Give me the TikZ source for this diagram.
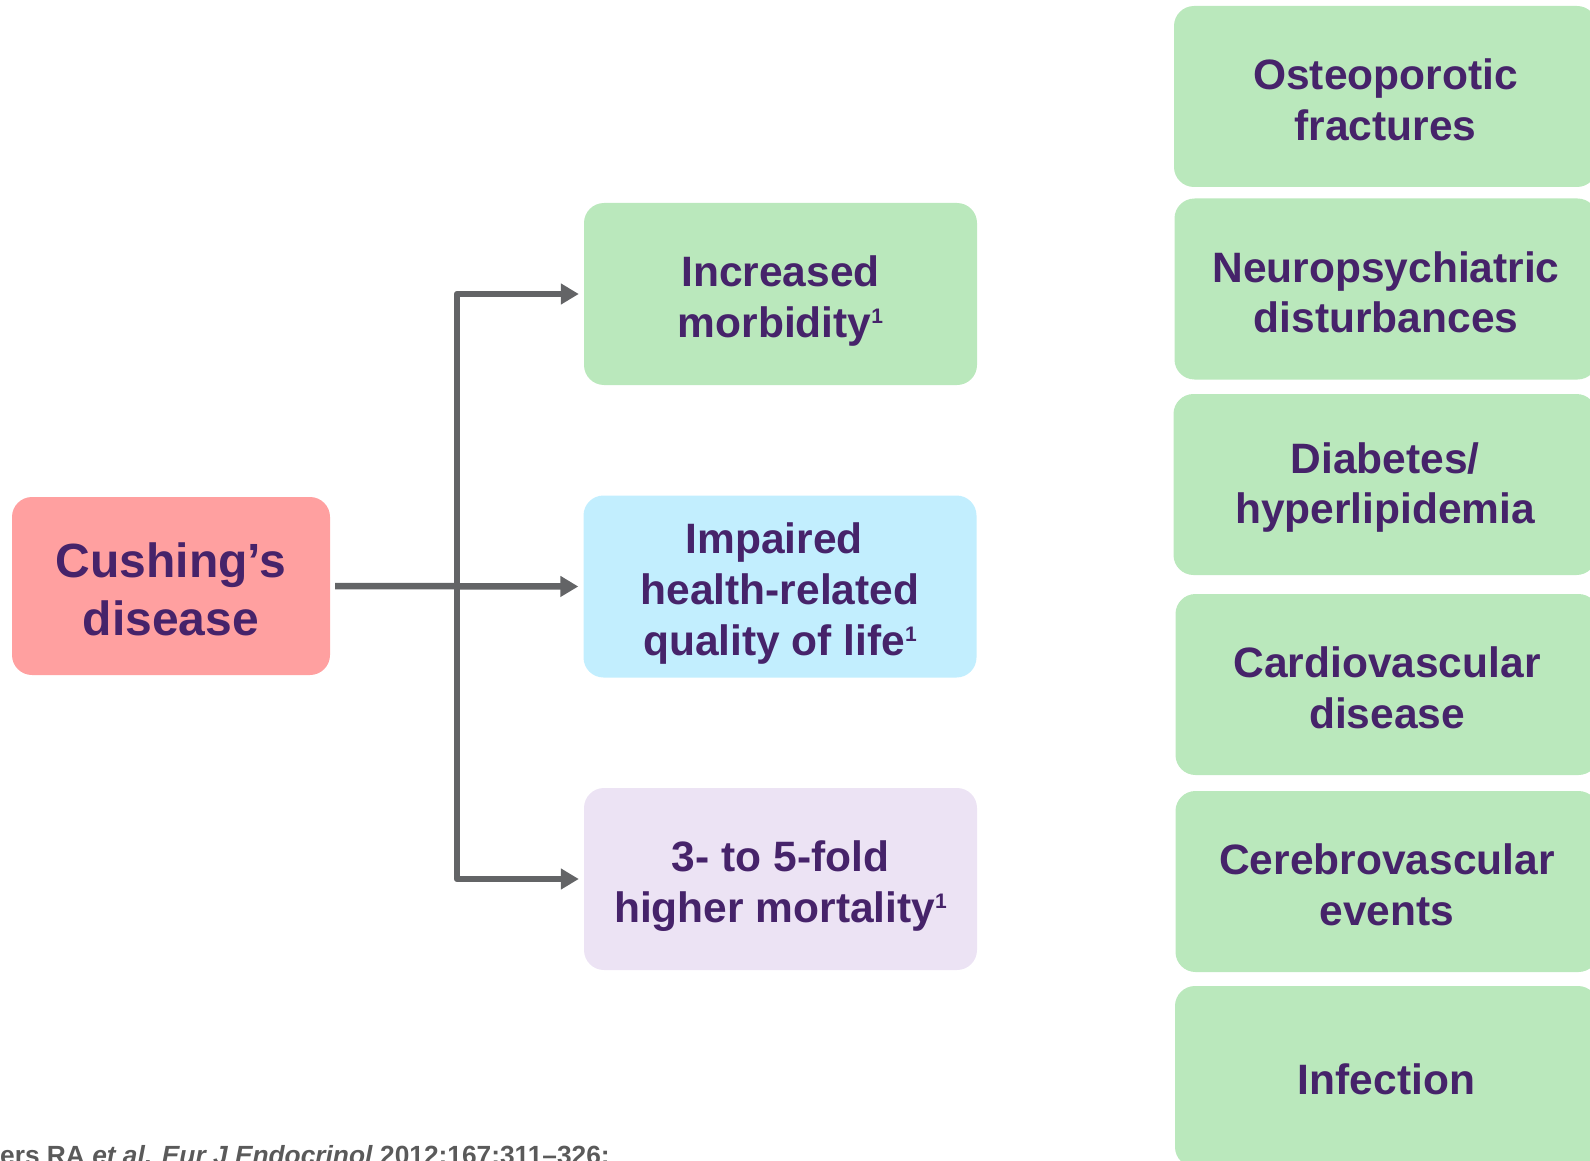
\documentclass[tikz,border=0pt]{standalone}
\usepackage{fontspec}
\setmainfont{Liberation Sans}
\usetikzlibrary{arrows.meta}
\definecolor{txt}{RGB}{70,35,106}
\definecolor{grn}{RGB}{186,232,188}
\definecolor{pnk}{RGB}{255,160,160}
\definecolor{blu}{RGB}{194,238,254}
\definecolor{lav}{RGB}{236,227,244}
\definecolor{gry}{RGB}{99,100,102}
\definecolor{reftxt}{RGB}{90,90,90}
\newcommand\supone{\raisebox{14pt}{\fontsize{21}{21}\selectfont 1}}
\newcommand\fst[1][6pt]{\rule{0pt}{\dimexpr0.735em+#1\relax}}
\tikzset{
  box/.style={rectangle, rounded corners=20pt, inner sep=0pt, align=center,
    text=txt, font=\bfseries\fontsize{42.5}{51}\selectfont},
  midbox/.style={box, minimum width=393pt, minimum height=182pt},
  sidebox/.style={box, fill=grn, minimum width=423pt, minimum height=181pt,
    font=\bfseries\fontsize{42.5}{50.5}\selectfont},
  conn/.style={draw=gry, line width=6.5pt, line join=round},
  tip/.style={-{Triangle[length=18pt,width=20pt]}},
}
\begin{document}
\begin{tikzpicture}[x=1pt,y=-1pt]
\useasboundingbox (0,0) rectangle (1590,1161);
\clip (0,0) rectangle (1590,1161);
% left
\node[box, fill=pnk, minimum width=318pt, minimum height=178pt,
  font=\bfseries\fontsize{48}{58}\selectfont] (cd) at (171,586) {\fst Cushing’s\\disease};
% middle
\node[midbox, fill=grn] (inc) at (780.5,294) {\fst[14pt]Increased\\morbidity\supone};
\node[midbox, fill=blu] (imp) at (780,586.5) {\fst[14pt]Impaired\kern11.8pt\\health-related\\quality of life\supone};
\node[midbox, fill=lav] (mort) at (780.5,879) {\fst[14pt]3- to 5-fold\\higher mortality\supone};
% right
\node[sidebox] (r1) at (1385.5,96.5) {\fst Osteoporotic\\fractures};
\node[sidebox] (r2) at (1386,289) {\fst Neuropsychiatric\\disturbances};
\node[sidebox] (r3) at (1385,484.5) {\fst Diabetes/\\hyperlipidemia};
\node[sidebox] (r4) at (1387,684.5) {\fst Cardiovascular\\disease};
\node[sidebox] (r5) at (1387,881.5) {\fst Cerebrovascular\\events};
\node[sidebox] (r6) at (1386.5,1076.5) {\fst Infection};
% connectors
\coordinate (jt) at (457,294);
\coordinate (jb) at (457,879);
\draw[conn, tip] ([xshift=5pt]cd.east) -- ([xshift=-5pt]imp.west);
\draw[conn, {Triangle[length=18pt,width=20pt]}-{Triangle[length=18pt,width=20pt]}]
  ([xshift=-5pt]inc.west) -- (jt) -- (jb) -- ([xshift=-5pt]mort.west);
% reference
\node[anchor=base west, inner sep=0pt, text=reftxt, font=\bfseries\fontsize{26.3}{31}\selectfont] (ref) at (0,1164)
  {ers RA \textit{et al.} \textit{Eur J Endocrinol} 2012;167:311–326;};
\end{tikzpicture}
\end{document}
